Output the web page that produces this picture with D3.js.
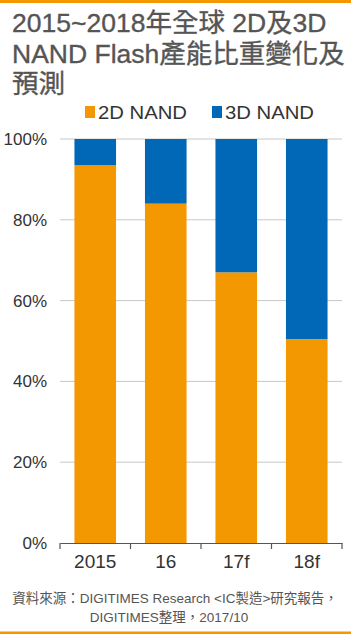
<!DOCTYPE html>
<html><head><meta charset="utf-8">
<script src="https://cdn.jsdelivr.net/npm/d3@7"></script>
<style>html,body{margin:0;padding:0;background:#fff;}svg{display:block;}</style>
</head><body>
<svg id="c" width="351" height="634"></svg>
<script>
const categories = ["2015", "16", "17f", "18f"];
const nand2D = [93.5, 84, 67, 50.5];
const nand3D = [6.5, 16, 33, 49.5];
const seriesNames = ["2D NAND", "3D NAND"];
const seriesColors = ["#F39800", "#0068B7"];
const yTicks = [0, 20, 40, 60, 80, 100];
const titleLines = ["2015~2018年全球 2D及3D", "NAND Flash產能比重變化及", "預測"];
const sourceLines = ["資料來源：DIGITIMES Research <IC製造>研究報告，", "DIGITIMES整理，2017/10"];

const svg = d3.select("#c");
const font = "'Liberation Sans', Arial, 'Noto Sans CJK TC', sans-serif";
const W = 351, H = 634;

svg.append("rect").attr("x",0).attr("y",0).attr("width",W).attr("height",3).attr("fill","#F39800");
svg.append("rect").attr("x",0).attr("y",631.5).attr("width",W).attr("height",2.5).attr("fill","#F39800");

const title = svg.append("text").attr("font-family",font).attr("font-size",26.5).attr("fill","#555")
  .attr("stroke","#555").attr("stroke-width",0.35);
titleLines.forEach((t,i)=>{
  title.append("tspan").attr("x",12).attr("y",32+i*30.5).text(t);
});

const x = d3.scaleBand().domain(categories).range([60,342]).paddingInner(0.41).paddingOuter(0.205);
const y = d3.scaleLinear().domain([0,100]).range([543,139]);

// gridlines
svg.append("g").selectAll("line").data(yTicks.filter(d=>d>0)).join("line")
  .attr("x1",60).attr("x2",342).attr("y1",d=>y(d)).attr("y2",d=>y(d))
  .attr("stroke","#c8c8c8").attr("stroke-width",1);

const data = categories.map((c,i)=>({c, a:nand2D[i], b:nand3D[i]}));
const stack = d3.stack().keys(["a","b"])(data);
svg.append("g").selectAll("g").data(stack).join("g").attr("fill",(d,i)=>seriesColors[i])
  .selectAll("rect").data(d=>d).join("rect")
  .attr("x",d=>x(d.data.c)).attr("width",x.bandwidth())
  .attr("y",d=>y(d[1])).attr("height",d=>y(d[0])-y(d[1]));

// y axis labels
const yAxis = svg.append("g").attr("transform","translate(60,0)")
  .call(d3.axisLeft(y).tickValues(yTicks).tickFormat(d=>d+"%").tickSize(0).tickPadding(13));
yAxis.select(".domain").remove();
yAxis.selectAll("text").attr("font-family",font).attr("font-size",17).attr("fill","#333");

// x axis
const xAxis = svg.append("g").attr("transform","translate(0,543)")
  .call(d3.axisBottom(x).tickSize(0).tickPadding(12));
xAxis.select(".domain").attr("stroke","#555").attr("stroke-width",1.2);
xAxis.selectAll("text").attr("font-family",font).attr("font-size",19).attr("fill","#333");
const edges = categories.map(c=>x(c)-x.step()*x.paddingInner()/2).concat([342]);
edges[0]=60;
xAxis.append("g").selectAll("line").data(edges).join("line")
  .attr("x1",d=>d).attr("x2",d=>d).attr("y1",0).attr("y2",6).attr("stroke","#555").attr("stroke-width",1.2);

// legend
const lg = svg.append("g").attr("font-family",font).attr("font-size",19).attr("fill","#333");
const lx = [85, 212];
seriesNames.forEach((n,i)=>{
  lg.append("rect").attr("x",lx[i]).attr("y",106).attr("width",10).attr("height",12).attr("fill",seriesColors[i]);
  lg.append("text").attr("x",lx[i]+13).attr("y",119).attr("textLength",89).attr("lengthAdjust","spacingAndGlyphs").text(n);
});

// source
const src = svg.append("text").attr("font-family",font).attr("font-size",13.5).attr("fill","#555").attr("text-anchor","middle");
src.append("tspan").attr("x",175).attr("y",603).text(sourceLines[0]);
src.append("tspan").attr("x",169).attr("y",622).text(sourceLines[1]);
</script>
</body></html>
